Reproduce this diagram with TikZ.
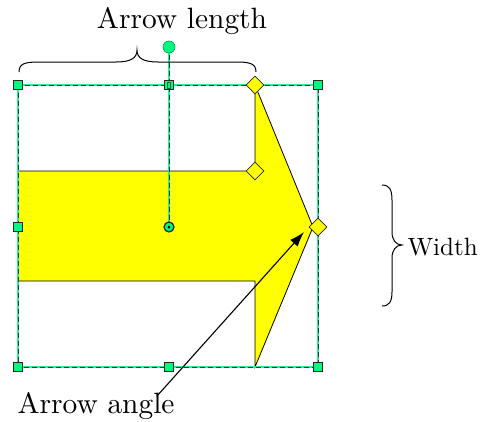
\documentclass[tikz,border=0pt]{standalone}
\usetikzlibrary{shapes.geometric,arrows.meta}
\definecolor{hgreen}{RGB}{0,250,128}
\definecolor{lgreen}{RGB}{40,235,150}
\definecolor{dgreen}{RGB}{0,150,80}
\definecolor{ayellow}{RGB}{255,255,0}
\tikzset{
  guide/.style={draw=lgreen,line width=1.3pt},
  guidedash/.style={draw=black!80,line width=0.9pt,dash pattern=on 5pt off 3pt},
  handle/.style={rectangle,draw=black!85,line width=0.7pt,fill=hgreen,minimum size=9.5pt,inner sep=0pt},
  dhandle/.style={diamond,draw=black!85,line width=0.7pt,fill=ayellow,minimum width=18pt,minimum height=18pt,inner sep=0pt},
  shapeline/.style={draw=black,line width=0.8pt,fill=ayellow,line join=miter},
  bracestyle/.style={draw=black,line width=1pt},
  lbl/.style={font=\fontsize{10}{12}\selectfont,inner sep=0pt,scale=2.94},
  lblw/.style={font=\fontsize{10}{12}\selectfont,inner sep=0pt,scale=2.5},
  pointer/.style={draw=black,line width=1.1pt,-{Latex[length=15pt,width=10pt]}}
}
\begin{document}
\begin{tikzpicture}[x=1pt,y=-1pt]
\path[use as bounding box] (0,0) rectangle (486,421);
% corner coordinates
\coordinate (tl) at (18,85);
\coordinate (tr) at (318,85);
\coordinate (bl) at (18,367);
\coordinate (br) at (318,367);
\coordinate (tm) at (169,85);
\coordinate (ctr) at (169,227);
\coordinate (rot) at (169,47);
% arrow shape
\path[shapeline] (18,171) -- (255,171) -- (255,85) -- (313,227) -- (255,367) -- (255,281) -- (18,281) -- cycle;
% dashed bounding box
\draw[guide] (tl) rectangle (br);
\draw[guidedash] (tl) rectangle (br);
\draw[guide] (rot) -- (ctr);
\draw[guidedash] (rot) -- (ctr);
% top brace
\draw[bracestyle] (19,72) .. controls (19,63) and (26,62) .. (40,62) -- (116,62)
  .. controls (131,62) and (137,58) .. (137,50)
  .. controls (137,58) and (143,62) .. (158,62) -- (235,62)
  .. controls (249,62) and (256,63) .. (256,72);
% width brace
\draw[bracestyle] (382,185) .. controls (389,185) and (392,189) .. (392,200) -- (392,232)
  .. controls (392,240) and (396,245) .. (402,245)
  .. controls (396,245) and (392,250) .. (392,258) -- (392,292)
  .. controls (392,302) and (389,306) .. (382,306);
% handles
\node[handle] (h1) at (tl) {};
\node[handle] (h2) at (tm) {};
\node[handle] (h3) at (tr) {};
\node[handle] (h4) at (18,227) {};
\node[handle] (h5) at (169,367) {};
\node[handle] (h6) at (br) {};
\node[handle] (h7) at (bl) {};
\node[draw=dgreen!70!black,line width=0.4pt,inner sep=0pt,minimum width=3pt,minimum height=6pt] (h2i) at (tm) {};
\node[circle,fill=hgreen,draw=dgreen,line width=0.6pt,minimum size=12pt,inner sep=0pt] (rh) at (rot) {};
\node[circle,fill=hgreen,draw=black!85,line width=1.2pt,minimum size=10pt,inner sep=0pt] (ch) at (ctr) {};
\node[circle,fill=black,minimum size=3pt,inner sep=0pt] (chd) at (ctr) {};
\node[dhandle] (d1) at (255,85) {};
\node[dhandle] (d2) at (255,171) {};
\node[dhandle] (d3) at (318,227) {};
% labels
\node[lbl,anchor=base] (lenlbl) at (182,28) {Arrow length};
\node[lbl,anchor=base] (anglbl) at (96,413) {Arrow angle};
\node[lblw,anchor=base west] (widlbl) at (407,255) {Width};
% pointer
\coordinate (pstart) at (157,396);
\coordinate (pend) at (304,232);
\draw[pointer] (pstart) -- (pend);
\end{tikzpicture}
\end{document}
